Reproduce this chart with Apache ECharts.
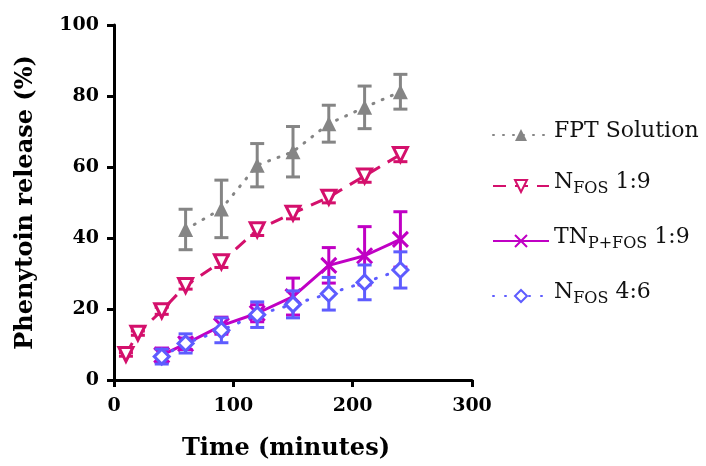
<!DOCTYPE html>
<html lang="en">

<head>
    <meta charset="UTF-8">
    <title>Phenytoin release</title>
    <script src="https://cdn.jsdelivr.net/npm/echarts@6/dist/echarts.min.js"></script>
    <style>
        body,
        html {
            margin: 0;
            padding: 0;
            background: #fff;
        }

        #main {
            width: 706px;
            height: 466px;
        }
    </style>
</head>

<body>
    <div id="main"></div>
    <script>
        // data (mean, sd)
        var seriesNames = ['FPT Solution', 'NFOS 1:9', 'TNP+FOS 1:9', 'NFOS 4:6'];

        var fptTime = [60, 90, 120, 150, 180, 210, 240];
        var fptMean = [42.4, 48.2, 60.5, 64.3, 72.2, 76.8, 81.2];
        var fptSd = [5.7, 8.1, 6.1, 7.1, 5.2, 6, 4.9];

        var nfos19Time = [10, 20, 40, 60, 90, 120, 150, 180, 210, 240];
        var nfos19Mean = [7.2, 13.2, 19.5, 26.6, 33.3, 42.3, 47, 51.5, 57.5, 63.5];
        var nfos19Sd = [0.5, 0.6, 1, 1, 1.6, 1.6, 1.6, 1.6, 1.8, 2];

        var tnTime = [40, 60, 90, 120, 150, 180, 210, 240];
        var tnMean = [7, 10.2, 15.3, 18.8, 23.5, 32.3, 35, 39.6];
        var tnSd = [2, 1.6, 2.4, 2.4, 5.2, 5, 8.2, 7.8];

        var nfos46Time = [40, 60, 90, 120, 150, 180, 210, 240];
        var nfos46Mean = [6.6, 10.3, 14, 18.4, 21.3, 24.3, 27.5, 31];
        var nfos46Sd = [2.1, 2.7, 3.5, 3.6, 3.8, 4.6, 4.9, 5.1];

        var xTicks = [0, 100, 200, 300];
        var yTicks = [0, 20, 40, 60, 80, 100];

        var colors = ['#858585', '#d4106c', '#c000c4', '#5e5cff'];

        function pairs(t, m) {
            var arr = [];
            for (var i = 0; i < t.length; i++) {
                arr.push([t[i], m[i]]);
            }
            return arr;
        }

        function errorSeries(id, t, m, sd, color, z) {
            var arr = [];
            for (var i = 0; i < t.length; i++) {
                arr.push([t[i], m[i] - sd[i], m[i] + sd[i]]);
            }
            return {
                type: 'custom',
                name: id,
                z: z,
                data: arr,
                silent: true,
                renderItem: function (params, api) {
                    var lo = api.coord([api.value(0), api.value(1)]);
                    var hi = api.coord([api.value(0), api.value(2)]);
                    var w = 7;
                    var st = { stroke: color, lineWidth: 3 };
                    return {
                        type: 'group',
                        children: [
                            { type: 'line', shape: { x1: lo[0], y1: lo[1], x2: hi[0], y2: hi[1] }, style: st },
                            { type: 'line', shape: { x1: lo[0] - w, y1: lo[1], x2: lo[0] + w, y2: lo[1] }, style: st },
                            { type: 'line', shape: { x1: hi[0] - w, y1: hi[1], x2: hi[0] + w, y2: hi[1] }, style: st }
                        ]
                    };
                }
            };
        }

        var serif = 'DejaVu Serif';
        var myChart = echarts.init(document.getElementById('main'));

        var option = {
            animation: false,
            grid: {
                left: 114,
                right: 234,
                top: 25,
                bottom: 83
            },
            legend: {
                data: seriesNames,
                orient: 'vertical',
                left: 487,
                top: 115,
                itemWidth: 56,
                itemHeight: 15,
                itemGap: 29,
                formatter: function (name) {
                    if (name == 'NFOS 1:9') return '{m|N}{s|FOS}{m| 1:9}';
                    if (name == 'TNP+FOS 1:9') return '{m|TN}{s|P+FOS}{m| 1:9}';
                    if (name == 'NFOS 4:6') return '{m|N}{s|FOS}{m| 4:6}';
                    return '{m|' + name + '}';
                },
                textStyle: {
                    rich: {
                        m: { fontFamily: serif, fontSize: 22, color: '#111', lineHeight: 30, verticalAlign: 'top', padding: [0, 0, 0, 0] },
                        s: { fontFamily: serif, fontSize: 16, color: '#111', lineHeight: 30, verticalAlign: 'top', padding: [10, 0, 0, 0] }
                    }
                }
            },
            xAxis: {
                type: 'value',
                min: 0,
                max: 300,
                interval: 100,
                name: 'Time (minutes)',
                nameLocation: 'middle',
                nameGap: 57,
                nameTextStyle: { fontFamily: serif, fontWeight: 'bold', fontSize: 24, color: '#000', padding: [0, 14, 0, 0] },
                axisLine: { onZero: false, lineStyle: { color: '#000', width: 3 } },
                axisTick: { show: true, length: 7, lineStyle: { color: '#000', width: 3 } },
                axisLabel: {
                    margin: 17, fontFamily: serif, fontWeight: 'bold', fontSize: 19, color: '#000',
                    formatter: function (v) { return xTicks.indexOf(v) > -1 ? String(v) : ''; }
                },
                splitLine: { show: false }
            },
            yAxis: {
                type: 'value',
                min: 0,
                max: 100,
                interval: 20,
                name: 'Phenytoin release (%)',
                nameLocation: 'middle',
                nameGap: 76,
                nameTextStyle: { fontFamily: serif, fontWeight: 'bold', fontSize: 24, color: '#000' },
                axisLine: { show: true, onZero: false, lineStyle: { color: '#000', width: 3 } },
                axisTick: { show: true, length: 7, lineStyle: { color: '#000', width: 3 } },
                axisLabel: {
                    margin: 15, fontFamily: serif, fontWeight: 'bold', fontSize: 19, color: '#000',
                    formatter: function (v) { return yTicks.indexOf(v) > -1 ? String(v) : ''; }
                },
                splitLine: { show: false }
            },
            series: [
                errorSeries('errFPT', fptTime, fptMean, fptSd, colors[0], 1),
                {
                    name: seriesNames[0],
                    type: 'line',
                    z: 2,
                    data: pairs(fptTime, fptMean),
                    symbol: 'triangle',
                    symbolSize: 15,
                    itemStyle: { color: colors[0] },
                    lineStyle: { color: colors[0], width: 3, type: [1, 9], cap: 'round' }
                },
                errorSeries('errN19', nfos19Time, nfos19Mean, nfos19Sd, colors[1], 3),
                {
                    name: seriesNames[1],
                    type: 'line',
                    z: 4,
                    data: pairs(nfos19Time, nfos19Mean),
                    symbol: 'triangle',
                    symbolRotate: 180,
                    symbolSize: 14,
                    showAllSymbol: true,
                    itemStyle: { color: '#fff', borderColor: colors[1], borderWidth: 3 },
                    lineStyle: { color: colors[1], width: 3, type: [13, 9] }
                },
                errorSeries('errTN', tnTime, tnMean, tnSd, colors[2], 5),
                {
                    name: seriesNames[2],
                    type: 'line',
                    z: 6,
                    data: pairs(tnTime, tnMean),
                    symbol: 'path://M0,0L10,10M10,0L0,10',
                    symbolSize: 15,
                    itemStyle: { color: colors[2], borderColor: colors[2], borderWidth: 3 },
                    lineStyle: { color: colors[2], width: 3 }
                },
                errorSeries('errN46', nfos46Time, nfos46Mean, nfos46Sd, colors[3], 7),
                {
                    name: seriesNames[3],
                    type: 'line',
                    z: 8,
                    data: pairs(nfos46Time, nfos46Mean),
                    symbol: 'diamond',
                    symbolSize: 15,
                    itemStyle: { color: '#fff', borderColor: colors[3], borderWidth: 3 },
                    lineStyle: { color: colors[3], width: 3, type: [1, 11], cap: 'round' }
                }
            ]
        };
        myChart.setOption(option);
    </script>
</body>

</html>
